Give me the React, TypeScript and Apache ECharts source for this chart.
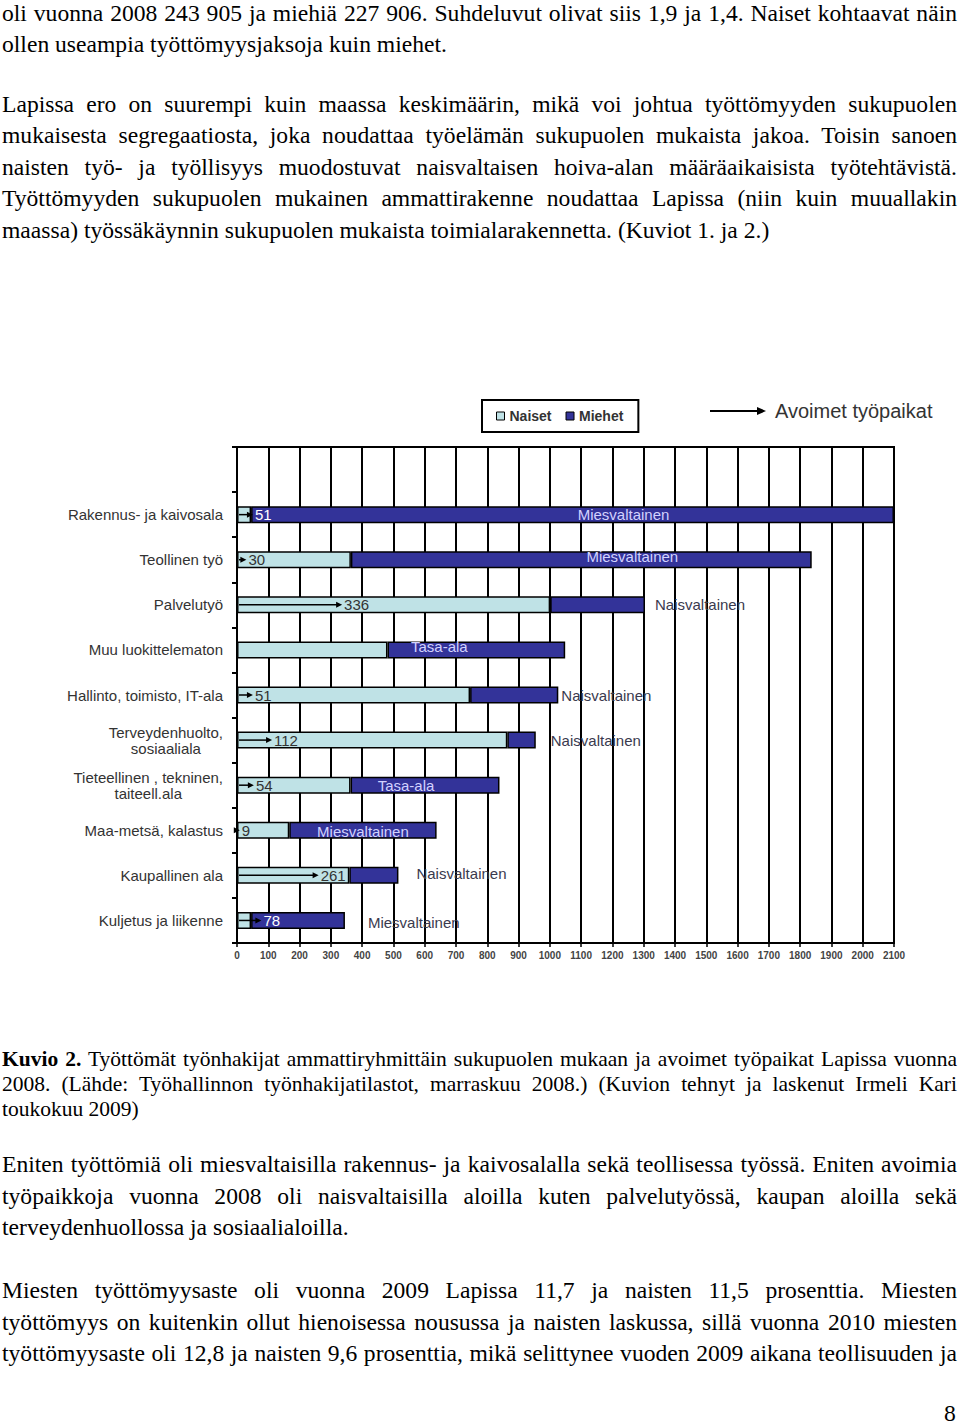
import React, { useEffect, useLayoutEffect, useRef } from "react";
import * as echarts from "echarts";

// ---- Data ----
const categories = [
  "",
  "Rakennus- ja kaivosala",
  "Teollinen työ",
  "Palvelutyö",
  "Muu luokittelematon",
  "Hallinto, toimisto, IT-ala",
  "Terveydenhuolto,\nsosiaaliala",
  "Tieteellinen , tekninen,\ntaiteell.ala",
  "Maa-metsä, kalastus",
  "Kaupallinen ala",
  "Kuljetus ja liikenne",
];
const naiset = [null, 45, 364, 1001, 481, 745, 864, 363, 167, 359, 45];
const miehet = [null, 2055, 1473, 303, 568, 282, 91, 476, 471, 157, 300];
const avoimetTyopaikat = [null, 51, 30, 336, null, 51, 112, 54, 9, 261, 78];
const alanLuonne = [
  "",
  "Miesvaltainen",
  "Miesvaltainen",
  "Naisvaltainen",
  "Tasa-ala",
  "Naisvaltainen",
  "Naisvaltainen",
  "Tasa-ala",
  "Miesvaltainen",
  "Naisvaltainen",
  "Miesvaltainen",
];
const xMin = 0;
const xMax = 2100;
const xInterval = 100;

// ---- Styles (label placement for the annotation texts) ----
const annotationPlacement: any[] = [
  null,
  { pos: "inside", dx: 51, dy: 0 },
  { pos: "inside", dx: 51, dy: -3 },
  { pos: "right", dx: 10, dy: 0 },
  { pos: "inside", dx: -37, dy: -3 },
  { pos: "right", dx: 3, dy: 0 },
  { pos: "right", dx: 15, dy: 0 },
  { pos: "inside", dx: -19, dy: 0 },
  { pos: "inside", dx: 0, dy: 1 },
  { pos: "right", dx: 18, dy: -2 },
  { pos: "right", dx: 23, dy: 2 },
];

const SANS = "'Liberation Sans', Arial, sans-serif";
const SERIF = "'Liberation Serif', 'Times New Roman', serif";
const LIGHT = "#bfe2e6";
const DARK = "#333399";

const pageLines1 = [
  { t: "oli vuonna 2008 243 905 ja miehiä 227 906. Suhdeluvut olivat siis 1,9 ja 1,4. Naiset kohtaavat näin", j: true },
  { t: "ollen useampia työttömyysjaksoja kuin miehet.", j: false },
];
const pageLines2 = [
  { t: "Lapissa ero on suurempi kuin maassa keskimäärin, mikä voi johtua työttömyyden sukupuolen", j: true },
  { t: "mukaisesta segregaatiosta, joka noudattaa työelämän sukupuolen mukaista jakoa. Toisin sanoen", j: true },
  { t: "naisten työ- ja työllisyys muodostuvat naisvaltaisen hoiva-alan määräaikaisista työtehtävistä.", j: true },
  { t: "Työttömyyden sukupuolen mukainen ammattirakenne noudattaa Lapissa (niin kuin muuallakin", j: true },
  { t: "maassa) työssäkäynnin sukupuolen mukaista toimialarakennetta. (Kuviot 1. ja 2.)", j: false },
];
const captionLines = [
  { b: "Kuvio 2.", t: " Työttömät työnhakijat ammattiryhmittäin sukupuolen mukaan ja avoimet työpaikat Lapissa vuonna", j: true },
  { t: "2008. (Lähde: Työhallinnon työnhakijatilastot, marraskuu 2008.) (Kuvion tehnyt ja laskenut Irmeli Kari", j: true },
  { t: "toukokuu 2009)", j: false },
];
const pageLines3 = [
  { t: "Eniten työttömiä oli miesvaltaisilla rakennus- ja kaivosalalla sekä teollisessa työssä. Eniten avoimia", j: true },
  { t: "työpaikkoja vuonna 2008 oli naisvaltaisilla aloilla kuten palvelutyössä, kaupan aloilla sekä", j: true },
  { t: "terveydenhuollossa ja sosiaalialoilla.", j: false },
];
const pageLines4 = [
  { t: "Miesten työttömyysaste oli vuonna 2009 Lapissa 11,7 ja naisten 11,5 prosenttia. Miesten", j: true },
  { t: "työttömyys on kuitenkin ollut hienoisessa nousussa ja naisten laskussa, sillä vuonna 2010 miesten", j: true },
  { t: "työttömyysaste oli 12,8 ja naisten 9,6 prosenttia, mikä selittynee vuoden 2009 aikana teollisuuden ja", j: true },
];

const FONT_SIZE = 23.6;
const CAPTION_SIZE = 21.5;
const TEXT_WIDTH = 955;

function Para({ lines, top, lh, fs }: { lines: any[]; top: number; lh: number; fs: number }) {
  const refs = useRef<(HTMLSpanElement | null)[]>([]);
  useLayoutEffect(() => {
    const fit = () => {
      lines.forEach((l, i) => {
        const el = refs.current[i];
        if (!el || !l.j) return;
        el.style.wordSpacing = "0px";
        const w = el.getBoundingClientRect().width;
        const full = (l.b || "") + l.t;
        const spaces = (full.match(/ /g) || []).length;
        if (spaces > 0) el.style.wordSpacing = (TEXT_WIDTH - w) / spaces + "px";
      });
    };
    fit();
    if ((document as any).fonts && (document as any).fonts.ready) {
      (document as any).fonts.ready.then(fit);
    }
  }, []);
  return (
    <div
      style={{
        position: "absolute",
        left: 2,
        top,
        width: TEXT_WIDTH,
        fontFamily: SERIF,
        fontSize: fs,
        lineHeight: lh + "px",
        color: "#000",
      }}
    >
      {lines.map((l, i) => (
        <div key={i} style={{ height: lh, whiteSpace: "pre" }}>
          <span ref={(el) => { refs.current[i] = el; }}>
            {l.b ? <b>{l.b}</b> : null}
            {l.t}
          </span>
        </div>
      ))}
    </div>
  );
}

function Chart() {
  const ref = useRef<HTMLDivElement>(null);
  useEffect(() => {
    if (!ref.current) return;
    const chart = echarts.init(ref.current, undefined, { renderer: "svg" });

    const arrowData = avoimetTyopaikat
      .map((v, i) => [v, i])
      .filter((d) => d[0] != null);

    const option: any = {
      animation: false,
      textStyle: { fontFamily: SANS },
      legend: {
        data: ["Naiset", "Miehet"],
        left: 482,
        top: 20,
        padding: [9, 15, 9, 14],
        borderColor: "#000",
        borderWidth: 2,
        itemWidth: 8,
        itemHeight: 8,
        itemGap: 14,
        icon: "rect",
        itemStyle: { borderColor: "#000", borderWidth: 1 },
        textStyle: { fontFamily: SANS, fontSize: 14, fontWeight: "bold", color: "#333" },
      },
      grid: {
        left: 237,
        top: 67,
        width: 657,
        height: 496,
        show: true,
        borderColor: "#000",
        borderWidth: 2,
        backgroundColor: "transparent",
        containLabel: false,
      },
      xAxis: {
        type: "value",
        min: xMin,
        max: xMax,
        interval: xInterval,
        axisLine: { show: true, lineStyle: { color: "#000", width: 2 } },
        axisTick: { show: true, length: 4, lineStyle: { color: "#000", width: 1.5 } },
        axisLabel: {
          fontSize: 10,
          color: "#444",
          fontWeight: "bold",
          margin: 7,
          fontFamily: SANS,
          formatter: (v: number) => String(v),
        },
        splitLine: { show: true, lineStyle: { color: "#000", width: 2 } },
      },
      yAxis: {
        type: "category",
        inverse: true,
        data: categories,
        axisLine: { show: true, lineStyle: { color: "#000", width: 2 } },
        axisTick: { show: true, length: 5, lineStyle: { color: "#000", width: 2 } },
        axisLabel: {
          margin: 14,
          fontSize: 15,
          color: "#333",
          fontFamily: SANS,
          formatter: (v: string) =>
            v.indexOf("\n") >= 0
              ? v
                  .split("\n")
                  .map((s) => "{c|" + s + "}")
                  .join("\n")
              : v,
          rich: {
            c: { align: "center", fontSize: 15, color: "#333", fontFamily: SANS, lineHeight: 16 },
          },
        },
        splitLine: { show: false },
      },
      series: [
        {
          name: "Naiset",
          type: "bar",
          stack: "yht",
          barWidth: 17,
          data: naiset,
          itemStyle: { color: LIGHT, borderColor: "#000", borderWidth: 1.5 },
          z: 3,
        },
        {
          name: "Miehet",
          type: "bar",
          stack: "yht",
          barWidth: 17,
          data: miehet.map((v, i) => {
            const p = annotationPlacement[i];
            if (!p || !alanLuonne[i]) return { value: v };
            const inside = p.pos === "inside";
            return {
              value: v,
              label: inside
                ? {
                    show: true,
                    position: "inside",
                    offset: [p.dx, p.dy],
                    formatter: alanLuonne[i],
                    fontSize: 15,
                    color: "#d2d2ff",
                    fontFamily: SANS,
                  }
                : {
                    show: true,
                    position: "right",
                    distance: p.dx,
                    offset: [0, p.dy],
                    formatter: alanLuonne[i],
                    fontSize: 15,
                    color: "#3a3a4e",
                    fontFamily: SANS,
                  },
            };
          }),
          itemStyle: { color: DARK, borderColor: "#000", borderWidth: 1.5 },
          z: 3,
        },
        {
          name: "Avoimet työpaikat",
          type: "custom",
          data: arrowData,
          encode: { x: 0, y: 1 },
          z: 10,
          renderItem: (params: any, api: any) => {
            const v = api.value(0);
            const c = api.value(1);
            const s = api.coord([0, c]);
            const e = api.coord([v, c]);
            const y = s[1];
            const x0 = s[0] + 2;
            const x1 = e[0];
            const head = 6;
            const onDark = naiset[c] != null && v > (naiset[c] as number);
            return {
              type: "group",
              children: [
                {
                  type: "line",
                  shape: { x1: x0, y1: y, x2: Math.max(x0, x1 - head + 1), y2: y },
                  style: { stroke: "#000", lineWidth: 1.5 },
                },
                {
                  type: "polygon",
                  shape: { points: [[x1, y], [x1 - head, y - 3], [x1 - head, y + 3]] },
                  style: { fill: "#000" },
                },
                {
                  type: "text",
                  x: x1 + 2,
                  y: y,
                  style: {
                    text: String(v),
                    fill: onDark ? "#ffffff" : "#333",
                    fontSize: 15,
                    fontFamily: SANS,
                    verticalAlign: "middle",
                    align: "left",
                  },
                },
              ],
            };
          },
        },
      ],
      graphic: [
        {
          type: "line",
          shape: { x1: 710, y1: 31, x2: 758, y2: 31 },
          style: { stroke: "#000", lineWidth: 2 },
        },
        {
          type: "polygon",
          shape: { points: [[766, 31], [757, 27], [757, 35]] },
          style: { fill: "#000" },
        },
        {
          type: "text",
          x: 775,
          y: 31,
          style: {
            text: "Avoimet työpaikat",
            fontSize: 20,
            fontFamily: SANS,
            fill: "#333",
            verticalAlign: "middle",
          },
        },
      ],
    };
    chart.setOption(option);
    return () => chart.dispose();
  }, []);
  return (
    <div
      ref={ref}
      style={{ position: "absolute", left: 0, top: 380, width: 960, height: 600 }}
    />
  );
}

export default function App() {
  return (
    <div
      style={{
        position: "absolute",
        left: 0,
        top: 0,
        width: 960,
        height: 1425,
        background: "#fff",
        overflow: "hidden",
      }}
    >
      <Para lines={pageLines1} top={-2} lh={31.4} fs={FONT_SIZE} />
      <Para lines={pageLines2} top={89} lh={31.4} fs={FONT_SIZE} />
      <Chart />
      <Para lines={captionLines} top={1047} lh={25} fs={CAPTION_SIZE} />
      <Para lines={pageLines3} top={1149} lh={31.5} fs={FONT_SIZE} />
      <Para lines={pageLines4} top={1275} lh={31.5} fs={FONT_SIZE} />
      <div
        style={{
          position: "absolute",
          left: 944,
          top: 1398,
          fontFamily: SERIF,
          fontSize: FONT_SIZE,
          lineHeight: "31px",
        }}
      >
        8
      </div>
    </div>
  );
}
